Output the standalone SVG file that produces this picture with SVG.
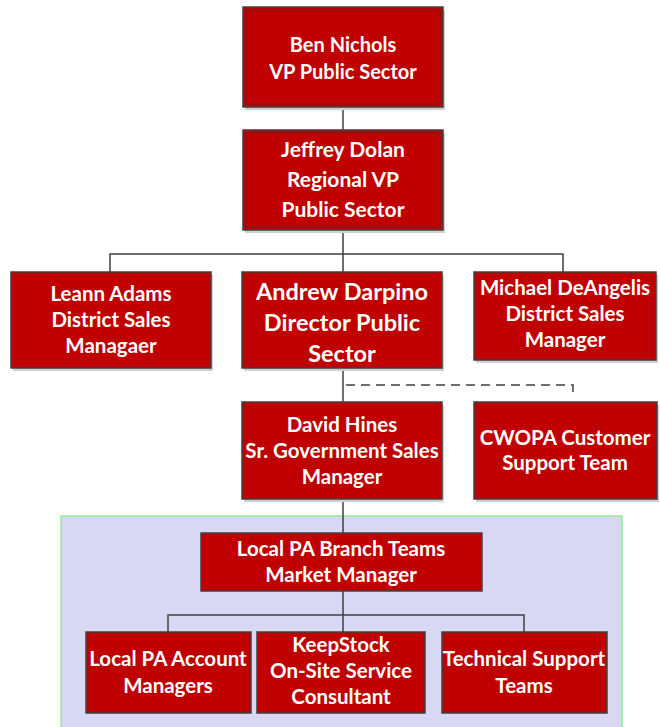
<svg xmlns="http://www.w3.org/2000/svg" width="660" height="727" viewBox="0 0 660 727">
<defs>
<style>
.box{fill:#c00000;stroke:#404040;stroke-width:1.5}
.inner{fill:none;stroke:#6a2020;stroke-width:1}
.sh{fill:#cfcfcf}
.t{font-family:Lato,"Open Sans","Liberation Sans",sans-serif;font-weight:bold;fill:#ffffff;text-anchor:middle;font-size:20.5px}
.c{fill:none;stroke:#404040;stroke-width:1.5}
.d{fill:none;stroke:#404040;stroke-width:1.5;stroke-dasharray:9,6}
</style>
<linearGradient id="g" x1="0" y1="0" x2="0" y2="1">
<stop offset="0" stop-color="#c80000"/>
<stop offset="1" stop-color="#b00000"/>
</linearGradient>
</defs>
<rect width="660" height="727" fill="#ffffff"/>
<rect id="region" x="61" y="516" width="561" height="215" fill="#d8d8f4" stroke="#90ee90" stroke-width="1.5"/>
<g id="connectors">
<path class="c" d="M343 107V130"/>
<path class="c" d="M343 230V272M110 272V254H563V272"/>
<path class="c" d="M343 368V402"/>
<path class="d" d="M346 385H573V393"/>
<path class="c" d="M343 499V533"/>
<path class="c" d="M343 591V632M168 632V615H524V632"/>
</g>
<g id="ben">
<rect class="sh" x="245" y="10" width="200" height="100"/>
<rect class="box" x="243" y="7" width="200" height="100"/>
<rect class="inner" x="246" y="10" width="194" height="94"/>
<text class="t" style="font-size:20px"><tspan x="343" y="52">Ben Nichols</tspan><tspan x="343" y="79">VP Public Sector</tspan></text>
</g>
<g id="jeffrey">
<rect class="sh" x="245" y="133" width="200" height="100"/>
<rect class="box" x="243" y="130" width="200" height="100"/>
<rect class="inner" x="246" y="133" width="194" height="94"/>
<text class="t" style="font-size:21px"><tspan x="343" y="157">Jeffrey Dolan</tspan><tspan x="343" y="187">Regional VP</tspan><tspan x="343" y="217">Public Sector</tspan></text>
</g>
<g id="leann">
<rect class="sh" x="13" y="275" width="200" height="96"/>
<rect class="box" x="11" y="272" width="200" height="96"/>
<text class="t"><tspan x="111" y="301">Leann Adams</tspan><tspan x="111" y="327">District Sales</tspan><tspan x="111" y="353">Managaer</tspan></text>
</g>
<g id="andrew">
<rect class="sh" x="244" y="275" width="200" height="96"/>
<rect class="box" x="242" y="272" width="200" height="96" fill="url(#g)"/>
<text class="t" style="font-size:23.5px"><tspan x="342" y="300">Andrew Darpino</tspan><tspan x="342" y="331">Director Public</tspan><tspan x="342" y="362">Sector</tspan></text>
</g>
<g id="michael">
<rect class="sh" x="476" y="275" width="182" height="88"/>
<rect class="box" x="474" y="272" width="182" height="88" fill="url(#g)"/>
<text class="t"><tspan x="565" y="295">Michael DeAngelis</tspan><tspan x="565" y="321">District Sales</tspan><tspan x="565" y="347">Manager</tspan></text>
</g>
<g id="david">
<rect class="sh" x="244" y="405" width="200" height="97"/>
<rect class="box" x="242" y="402" width="200" height="97"/>
<text class="t"><tspan x="342" y="432">David Hines</tspan><tspan x="342" y="458">Sr. Government Sales</tspan><tspan x="342" y="484">Manager</tspan></text>
</g>
<g id="cwopa">
<rect class="sh" x="476" y="405" width="183" height="97"/>
<rect class="box" x="474" y="402" width="183" height="97"/>
<text class="t"><tspan x="565" y="445">CWOPA Customer</tspan><tspan x="565" y="470">Support Team</tspan></text>
</g>
<g id="branch">
<rect class="box" x="201" y="533" width="281" height="58" stroke="#202020"/>
<text class="t"><tspan x="341" y="556">Local PA Branch Teams</tspan><tspan x="341" y="582">Market Manager</tspan></text>
</g>
<g id="account">
<rect class="box" x="86" y="632" width="165" height="81"/>
<text class="t"><tspan x="168" y="666">Local PA Account</tspan><tspan x="168" y="693">Managers</tspan></text>
</g>
<g id="keepstock">
<rect class="box" x="257" y="632" width="168" height="81"/>
<text class="t"><tspan x="341" y="652">KeepStock</tspan><tspan x="341" y="678">On-Site Service</tspan><tspan x="341" y="704">Consultant</tspan></text>
</g>
<g id="tech">
<rect class="box" x="442" y="632" width="165" height="81" fill="#b80000"/>
<text class="t"><tspan x="524" y="666">Technical Support</tspan><tspan x="524" y="693">Teams</tspan></text>
</g>
</svg>
